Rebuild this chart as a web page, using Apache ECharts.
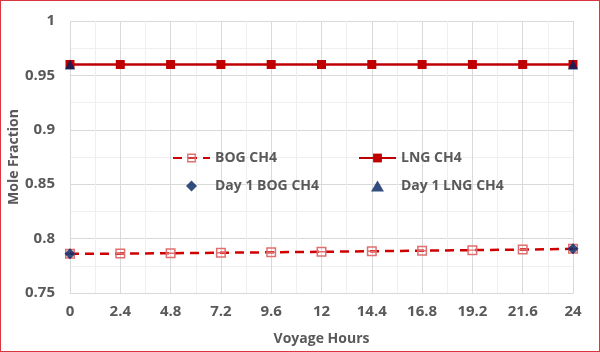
<!DOCTYPE html>
<html>
<head>
<meta charset="utf-8">
<script src="https://cdn.jsdelivr.net/npm/echarts@6/dist/echarts.min.js"></script>
<style>
  html, body { margin: 0; padding: 0; background: #fff; }
  #chart { width: 600px; height: 352px; box-sizing: border-box; border: 1px solid #d9363e; }
</style>
</head>
<body>
<div id="chart"></div>
<script>
// voyage hours (x) and tick labels
const hours = [0, 2.4, 4.8, 7.2, 9.6, 12, 14.4, 16.8, 19.2, 21.6, 24];
const hourLabels = ['0', '2.4', '4.8', '7.2', '9.6', '12', '14.4', '16.8', '19.2', '21.6', '24'];

// mole fraction of CH4
const bogCH4 = [0.786, 0.7862, 0.7866, 0.787, 0.7874, 0.7879, 0.7884, 0.7889, 0.7894, 0.7899, 0.7906];
const lngCH4 = [0.96, 0.96, 0.96, 0.96, 0.96, 0.96, 0.96, 0.96, 0.96, 0.96, 0.96];
const day1Bog = [[0, 0.786], [24, 0.7906]];
const day1Lng = [[0, 0.96], [24, 0.96]];

const txt = '#595959';
const font = 'Open Sans';

const chart = echarts.init(document.getElementById('chart'));

const pairs = vals => hours.map((h, i) => [h, vals[i]]);

const legendText = { color: txt, fontSize: 14, fontWeight: 'bold', fontFamily: font };
const diamondIcon = 'path://M0,-1L1,0L0,1L-1,0Z';
const triangleIcon = 'path://M0,0L1,1.7L-1,1.7Z';

chart.setOption({
  animation: false,
  grid: { left: 69, right: 26, top: 20, bottom: 58, outerBoundsMode: 'none' },
  legend: [
    {
      data: ['BOG CH4', { name: 'Day 1 BOG CH4', icon: diamondIcon }],
      orient: 'vertical', left: 171, top: 150, itemGap: 14, padding: 0,
      itemWidth: 37, itemHeight: 11, textStyle: legendText
    },
    {
      data: ['LNG CH4', { name: 'Day 1 LNG CH4', icon: triangleIcon }],
      orient: 'vertical', left: 357, top: 150, itemGap: 14, padding: 0,
      itemWidth: 37, itemHeight: 11, textStyle: legendText
    }
  ],
  xAxis: {
    type: 'value', min: 0, max: 24, interval: 2.4,
    name: 'Voyage Hours', nameLocation: 'middle', nameGap: 39, nameMoveOverlap: false,
    nameTextStyle: { color: txt, fontSize: 14, fontWeight: 'bold', fontFamily: font },
    axisLine: { lineStyle: { color: '#d9d9d9' } },
    axisTick: { show: false },
    axisLabel: {
      color: txt, fontSize: 15, fontWeight: 'bold', fontFamily: font, margin: 11,
      formatter: v => hourLabels[hours.findIndex(h => Math.abs(h - v) < 1e-6)] ?? ''
    },
    splitLine: { show: true, lineStyle: { color: '#d9d9d9' } },
    minorTick: { show: false, splitNumber: 2 },
    minorSplitLine: { show: true, lineStyle: { color: '#efefef' } }
  },
  yAxis: {
    type: 'value', min: 0.75, max: 1, interval: 0.05,
    name: 'Mole Fraction', nameLocation: 'middle', nameGap: 49, nameMoveOverlap: false,
    nameTextStyle: { color: txt, fontSize: 14, fontWeight: 'bold', fontFamily: font },
    axisLine: { show: false },
    axisTick: { show: false },
    axisLabel: {
      color: txt, fontSize: 15, fontWeight: 'bold', fontFamily: font, margin: 15,
      formatter: v => String(+v.toFixed(2))
    },
    splitLine: { lineStyle: { color: '#d9d9d9' } },
    minorTick: { show: false, splitNumber: 2 },
    minorSplitLine: { show: true, lineStyle: { color: '#efefef' } }
  },
  series: [
    {
      name: 'BOG CH4', type: 'line', data: pairs(bogCH4),
      symbol: 'path://M0,0H10V10H0Z M1.5,1.5V8.5H8.5V1.5Z M1.5,4.3H8.5V5.7H1.5Z',
      symbolSize: 10,
      lineStyle: { color: '#d00000', width: 2.5, type: [9, 6] },
      itemStyle: { color: '#e06f6f' }
    },
    {
      name: 'LNG CH4', type: 'line', data: pairs(lngCH4),
      symbol: 'rect', symbolSize: 9,
      lineStyle: { color: '#c00000', width: 2.5 },
      itemStyle: { color: '#c00000' }
    },
    {
      name: 'Day 1 BOG CH4', type: 'scatter', data: day1Bog,
      symbol: 'diamond', symbolSize: 11,
      itemStyle: { color: '#002060' }, z: 5
    },
    {
      name: 'Day 1 LNG CH4', type: 'scatter', data: day1Lng,
      symbol: 'triangle', symbolSize: 10,
      itemStyle: { color: '#002060' }, z: 5
    }
  ]
});
</script>
</body>
</html>
